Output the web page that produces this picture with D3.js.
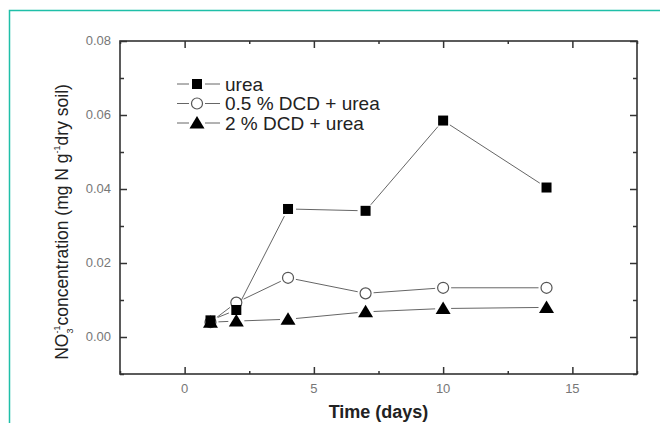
<!DOCTYPE html>
<html>
<head>
<meta charset="utf-8">
<script src="https://cdn.jsdelivr.net/npm/d3@7"></script>
<style>
  html, body { margin: 0; padding: 0; background: #fff; }
  svg { display: block; }
</style>
</head>
<body>
<svg id="chart" width="660" height="423"></svg>
<script>
// Sampling days
const days = [1, 2, 4, 7, 10, 14];
// NO3- concentration (mg N g-1 dry soil) per treatment
const urea   = [0.0045, 0.0073, 0.0346, 0.0341, 0.0585, 0.0404];
const dcd05  = [0.0040, 0.0093, 0.0160, 0.0118, 0.0133, 0.0133];
const dcd2   = [0.0040, 0.0043, 0.0048, 0.0068, 0.0077, 0.0080];
const seriesNames = ["urea", "0.5 % DCD + urea", "2 % DCD + urea"];
const seriesShapes = ["square", "circle", "triangle"];
const xTicks = [0, 5, 10, 15];
const yTicks = [0.00, 0.02, 0.04, 0.06, 0.08];

const series = [urea, dcd05, dcd2].map((vals, i) => ({
  name: seriesNames[i], shape: seriesShapes[i],
  points: days.map((d, j) => ({ x: d, y: vals[j] }))
}));

const svg = d3.select("#chart");
const W = 660, H = 423;
const plot = { left: 120, top: 41, right: 637, bottom: 374 };
const font = "Liberation Sans, Arial, sans-serif";

// Page frame (teal rule, top and left edges)
svg.append("path")
  .attr("d", `M9.5,${H} L9.5,10.5 L${W},10.5`)
  .attr("fill", "none").attr("stroke", "#1fbfa8").attr("stroke-width", 1.5);

const x = d3.scaleLinear().domain([-2.5, 17.5]).range([plot.left, plot.right]);
const y = d3.scaleLinear().domain([-0.01, 0.08]).range([plot.bottom, plot.top]);

const axisColor = "#333";
const labelColor = "#777";

// Inward ticks on all four sides
function ticksAxis(axis, transform) {
  const g = svg.append("g").attr("transform", transform).call(axis);
  g.select(".domain").remove();
  g.selectAll("line").attr("stroke", axisColor).attr("stroke-width", 1.5);
  return g;
}
const xMinor = d3.range(-2.5, 17.6, 2.5).filter(v => v % 5 !== 0);
const yMinor = d3.range(-0.01, 0.0801, 0.01).filter(v => Math.abs(Math.round(v * 100) % 2) === 1);

ticksAxis(d3.axisTop(x).tickValues(xTicks).tickSize(7).tickFormat(""), `translate(0,${plot.bottom})`);
ticksAxis(d3.axisTop(x).tickValues(xMinor).tickSize(3).tickFormat(""), `translate(0,${plot.bottom})`);
ticksAxis(d3.axisBottom(x).tickValues(xTicks).tickSize(7).tickFormat(""), `translate(0,${plot.top})`);
ticksAxis(d3.axisBottom(x).tickValues(xMinor).tickSize(3).tickFormat(""), `translate(0,${plot.top})`);
ticksAxis(d3.axisRight(y).tickValues(yTicks).tickSize(7).tickFormat(""), `translate(${plot.left},0)`);
ticksAxis(d3.axisRight(y).tickValues(yMinor).tickSize(4).tickFormat(""), `translate(${plot.left},0)`);
ticksAxis(d3.axisLeft(y).tickValues(yTicks).tickSize(7).tickFormat(""), `translate(${plot.right},0)`);
ticksAxis(d3.axisLeft(y).tickValues(yMinor).tickSize(4).tickFormat(""), `translate(${plot.right},0)`);

// tick labels
svg.append("g").selectAll("text").data(xTicks).join("text")
  .attr("x", d => x(d)).attr("y", plot.bottom + 19)
  .attr("text-anchor", "middle")
  .attr("font-family", font).attr("font-size", 13)
  .attr("fill", labelColor).text(d => d);
svg.append("g").selectAll("text").data(yTicks).join("text")
  .attr("x", plot.left - 9).attr("y", d => y(d) + 4)
  .attr("text-anchor", "end")
  .attr("font-family", font).attr("font-size", 13)
  .attr("fill", labelColor).text(d => d3.format(".2f")(d));

// frame
svg.append("rect")
  .attr("x", plot.left).attr("y", plot.top)
  .attr("width", plot.right - plot.left).attr("height", plot.bottom - plot.top)
  .attr("fill", "none").attr("stroke", axisColor).attr("stroke-width", 1.6);

// axis titles
svg.append("text")
  .attr("x", (x(0) + x(15)) / 2).attr("y", 418)
  .attr("text-anchor", "middle")
  .attr("font-family", font).attr("font-size", 18)
  .attr("font-weight", "bold").attr("fill", "#222")
  .text("Time (days)");

const yt = svg.append("text")
  .attr("transform", `translate(68,222) rotate(-90)`)
  .attr("text-anchor", "middle")
  .attr("font-family", font).attr("font-size", 17.5)
  .attr("fill", "#222");
yt.append("tspan").text("NO");
yt.append("tspan").attr("font-size", 9).attr("dy", 5).text("3");
yt.append("tspan").attr("font-size", 9).attr("dy", -13).attr("dx", -5).text("-1");
yt.append("tspan").attr("dy", 8).text("concentration (mg N g");
yt.append("tspan").attr("font-size", 9).attr("dy", -8).text("-1");
yt.append("tspan").attr("dy", 8).text("dry soil)");

// marker drawing
function drawMarker(g, shape, cx, cy) {
  if (shape === "square") {
    g.append("rect").attr("x", cx - 5).attr("y", cy - 5).attr("width", 10).attr("height", 10)
      .attr("fill", "#000");
  } else if (shape === "circle") {
    g.append("circle").attr("cx", cx).attr("cy", cy).attr("r", 5.5)
      .attr("fill", "#fff").attr("stroke", "#555").attr("stroke-width", 1.2);
  } else {
    g.append("path").attr("d", `M${cx},${cy - 7} L${cx + 7.5},${cy + 5.5} L${cx - 7.5},${cy + 5.5} Z`)
      .attr("fill", "#000");
  }
}
const gap = 8;
function gappedSegment(g, x1, y1, x2, y2) {
  const dx = x2 - x1, dy = y2 - y1, len = Math.hypot(dx, dy);
  if (len <= 2 * gap) return;
  const ux = dx / len, uy = dy / len;
  g.append("line")
    .attr("x1", x1 + ux * gap).attr("y1", y1 + uy * gap)
    .attr("x2", x2 - ux * gap).attr("y2", y2 - uy * gap)
    .attr("stroke", "#666").attr("stroke-width", 1);
}

// series lines and markers
const gLines = svg.append("g");
const gMarks = svg.append("g");
series.slice().reverse().forEach(s => {
  const pts = s.points.map(p => [x(p.x), y(p.y)]);
  for (let i = 0; i < pts.length - 1; i++) gappedSegment(gLines, pts[i][0], pts[i][1], pts[i + 1][0], pts[i + 1][1]);
});
[series[1], series[0], series[2]].forEach(s => {
  s.points.forEach(p => drawMarker(gMarks, s.shape, x(p.x), y(p.y)));
});

// legend
const legend = svg.append("g");
series.forEach((s, i) => {
  const ly = 84 + i * 19.5;
  legend.append("line").attr("x1", 177).attr("x2", 189).attr("y1", ly).attr("y2", ly)
    .attr("stroke", "#666").attr("stroke-width", 1);
  legend.append("line").attr("x1", 205).attr("x2", 220).attr("y1", ly).attr("y2", ly)
    .attr("stroke", "#666").attr("stroke-width", 1);
  drawMarker(legend, s.shape, 197, ly);
  legend.append("text").attr("x", 225).attr("y", ly + 6.5)
    .attr("font-family", font).attr("font-size", 19)
    .attr("fill", "#222").text(s.name);
});
</script>
</body>
</html>
